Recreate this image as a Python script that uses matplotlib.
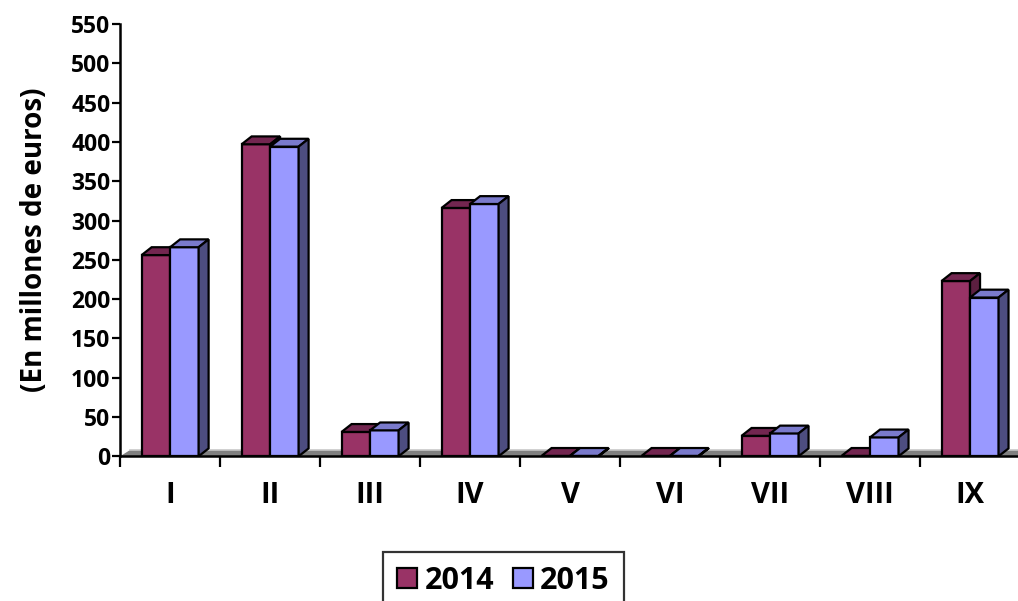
import numpy as np
import matplotlib
matplotlib.use("Agg")
import matplotlib.pyplot as plt
from matplotlib.patches import Polygon

plt.rcParams['font.family'] = ['Open Sans', 'DejaVu Sans']
plt.rcParams['font.weight'] = 'bold'
plt.rcParams['axes.labelweight'] = 'bold'

categories = ['I', 'II', 'III', 'IV', 'V', 'VI', 'VII', 'VIII', 'IX']
series_names = ['2014', '2015']
v2014 = [256, 397, 31, 316, 0.5, 0.5, 26, 0.5, 223]
v2015 = [266, 394, 33, 321, 0.5, 0.5, 29, 24, 202]
yticks = list(range(0, 551, 50))

# colours: front, top, side
col14 = ('#993366', '#732650', '#5c1f40')
col15 = ('#9999ff', '#7a7acc', '#4d4d80')

# 3d depth in data units
DX = 0.10
DY = 10.0
W = 0.285

fig = plt.figure(figsize=(10.18, 6.01), dpi=100)
ax = fig.add_axes([0.118, 0.2408, 0.884, 0.7192])

x = np.arange(len(categories))

# floor
floor = Polygon([(-0.5, 0), (8.5, 0), (8.5 + DX, DY * 0.8), (-0.5 + DX, DY * 0.8)],
                closed=True, facecolor='#808080', edgecolor='none', zorder=1)
ax.add_patch(floor)
ax.plot([-0.5 + DX, 8.5 + DX], [DY * 0.8, DY * 0.8], color='#c8c8c8', lw=1.2, zorder=1.1)

def draw_series(xs, vals, cols, z):
    bars = ax.bar(xs, vals, width=W, color=cols[0], edgecolor='black', linewidth=1.6, zorder=z)
    for b in bars:
        x0 = b.get_x()
        x1 = x0 + b.get_width()
        h = b.get_height()
        top = Polygon([(x0, h), (x1, h), (x1 + DX, h + DY), (x0 + DX, h + DY)],
                      closed=True, facecolor=cols[1], edgecolor='black', linewidth=1.6, zorder=z)
        side = Polygon([(x1, 0), (x1 + DX, DY), (x1 + DX, h + DY), (x1, h)],
                       closed=True, facecolor=cols[2], edgecolor='black', linewidth=1.6, zorder=z)
        ax.add_patch(top)
        ax.add_patch(side)
    return bars

b14 = draw_series(x - W / 2, v2014, col14, 3)
b15 = draw_series(x + W / 2, v2015, col15, 4)

ax.set_xlim(-0.5, 8.5)
ax.set_ylim(0, 550)
ax.set_yticks(yticks)
ax.tick_params(axis='y', labelsize=16.5, width=1.6, length=6, direction='out', pad=1)

ax.set_xticks(np.arange(-0.5, 8.6, 1.0))
ax.set_xticklabels([])
ax.set_xticks(x, minor=True)
ax.set_xticklabels(categories, minor=True)
ax.tick_params(axis='x', which='major', width=1.6, length=8, direction='out')
ax.tick_params(axis='x', which='minor', length=0, labelsize=21, pad=18)

for s in ['top', 'right']:
    ax.spines[s].set_visible(False)
for s in ['left', 'bottom']:
    ax.spines[s].set_linewidth(1.8)

ax.set_ylabel('(En millones de euros)', fontsize=20, fontweight='bold', labelpad=16)

leg = ax.legend([b14, b15], series_names, loc='upper center', bbox_to_anchor=(0.426, -0.222),
                borderaxespad=0, ncol=2, frameon=True, fancybox=False, edgecolor='black',
                fontsize=22, handlelength=0.65, handleheight=0.65, handletextpad=0.25,
                columnspacing=0.6, borderpad=0.45)
leg.get_frame().set_linewidth(1.6)

fig.savefig('out.png', dpi=100)
